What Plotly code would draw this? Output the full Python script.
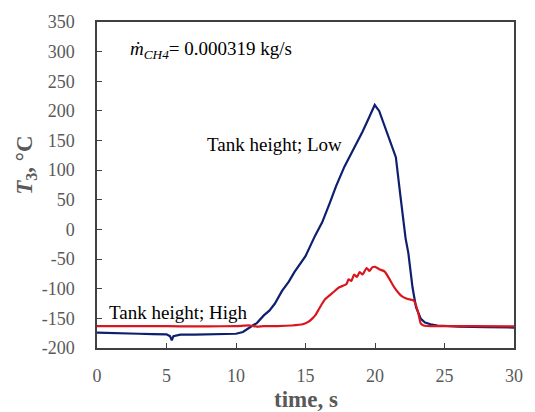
import plotly.graph_objects as go

# Tank height; Low (blue)
t_low = [0, 1, 2, 3, 4, 5, 5.25, 5.38, 5.5, 6, 7, 8, 9, 10, 10.5, 10.8, 11.2, 11.5,
         12, 12.4, 12.8, 13.3, 13.8, 14.2, 14.5, 15, 15.7, 16.2, 16.75, 17.2, 17.8,
         18.4, 19.1, 19.5, 19.98, 20.3, 20.7, 21.3, 21.5, 21.8, 22.2, 22.4, 22.7,
         22.95, 23.3, 23.6, 24, 24.5, 25, 26, 28, 30]
T_low = [-174, -175, -175.5, -176, -176.5, -177, -180, -187, -180, -177.5, -177.5,
         -177, -176.5, -176, -173, -168, -162, -158, -145, -137, -125, -104, -88,
         -72, -62, -45, -10, 12, 45, 73, 106, 132, 165, 185, 210, 200, 175, 137,
         122, 62, -15, -40, -98, -131, -151, -157, -160, -162, -163, -164, -165, -165.5]

# Tank height; High (red)
t_high = [0, 2, 4, 6, 8, 10, 11, 11.5, 12, 13, 14, 14.8, 15.2, 15.5, 15.7, 16, 16.4,
          17, 17.4, 17.95, 18.1, 18.3, 18.5, 18.7, 18.9, 19.1, 19.4, 19.6, 19.8, 20,
          20.3, 20.7, 21, 21.4, 21.9, 22.3, 22.8, 23.1, 23.3, 23.5, 24, 25, 27, 30]
T_high = [-163, -163, -163, -163.5, -163.5, -163, -162, -164, -163, -163, -162, -160,
          -156, -150, -145, -133, -118, -106, -98, -92, -84, -87, -76, -80, -72, -76,
          -65, -70, -64, -63, -67, -71, -82, -98, -112, -117, -120, -140, -159, -162,
          -163, -163, -163, -163.5]

x_ticks = [0, 5, 10, 15, 20, 25, 30]
y_ticks = list(range(-200, 351, 50))
x_labels = [str(v) for v in x_ticks]
y_labels = [str(v) for v in y_ticks]

FONT = "Times New Roman, Liberation Serif, serif"
GRAY = "#595959"

fig = go.Figure()
fig.add_trace(go.Scatter(x=t_low, y=T_low, mode="lines",
                         line=dict(color="#0d1f6e", width=2.2), showlegend=False))
fig.add_trace(go.Scatter(x=t_high, y=T_high, mode="lines",
                         line=dict(color="#d9161d", width=2.2, shape="spline",
                                   smoothing=0.6),
                         showlegend=False))

fig.update_layout(
    width=535, height=412,
    margin=dict(l=97, r=18, t=16, b=64),
    paper_bgcolor="white", plot_bgcolor="white",
    font=dict(family=FONT, color=GRAY),
    xaxis=dict(range=[0, 30], tickvals=x_ticks, ticktext=x_labels,
               ticks="inside", ticklen=5,
               tickcolor="#404040", showline=True, linecolor="#404040", linewidth=1.5,
               mirror=True, showgrid=False, zeroline=False,
               tickfont=dict(size=18, color=GRAY, family=FONT),
               ticklabelstandoff=11),
    yaxis=dict(range=[-200, 350], tickvals=y_ticks, ticktext=y_labels,
               ticks="inside", ticklen=5,
               tickcolor="#404040", showline=True, linecolor="#404040", linewidth=1.5,
               mirror=True, showgrid=False, zeroline=False,
               tickfont=dict(size=18, color=GRAY, family=FONT),
               ticklabelstandoff=17),
    annotations=[
        dict(x=0.5, y=-(400 - 348) / 332, xref="paper", yref="paper",
             xanchor="center", yanchor="middle",
             text="<b>time, s</b>", showarrow=False,
             font=dict(size=23, color=GRAY, family=FONT)),
        dict(x=-71 / 420, y=(348 - 162) / 332, xref="paper", yref="paper",
             xanchor="center", yanchor="middle", textangle=-90,
             text="<b><i>T</i><sub>3</sub>, °C</b>", showarrow=False,
             font=dict(size=23, color=GRAY, family=FONT)),
        dict(x=2.2, y=303, xref="x", yref="y", xanchor="left", yanchor="middle",
             text="<i>ṁ</i><sub><i>CH4</i></sub>= 0.000319 kg/s", showarrow=False,
             font=dict(size=19, color="#000000", family=FONT)),
        dict(x=12.8, y=144, xref="x", yref="y", xanchor="center", yanchor="middle",
             text="Tank height; Low", showarrow=False,
             font=dict(size=19, color="#000000", family=FONT)),
        dict(x=5.86, y=-140, xref="x", yref="y", xanchor="center", yanchor="middle",
             text="Tank height; High", showarrow=False,
             font=dict(size=19, color="#000000", family=FONT)),
    ],
)

fig.write_html("out.html")
